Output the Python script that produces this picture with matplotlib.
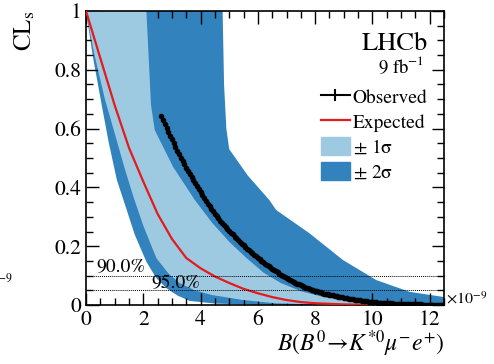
import numpy as np
import matplotlib
matplotlib.use("Agg")
import matplotlib.pyplot as plt
from matplotlib.ticker import MultipleLocator
from matplotlib.patches import Patch
from matplotlib.lines import Line2D

plt.rcParams['font.family'] = ['STIXGeneral', 'DejaVu Sans']
plt.rcParams['mathtext.fontset'] = 'stix'

# expected CLs (median)
exp_x = [0, 0.5, 1.0, 1.5, 2.0, 2.5, 3.0, 3.5, 4.0, 4.5, 5.0, 5.5, 6.0, 6.5, 7.0, 7.5, 8.0, 9.0, 10.0, 12.5]
exp_y = [1.0, 0.84, 0.68, 0.535, 0.42, 0.31, 0.225, 0.16, 0.125, 0.097, 0.075, 0.055, 0.04, 0.027, 0.017, 0.01, 0.006, 0.002, 0.0005, 0.0]

# -1 sigma / +1 sigma band edges
m1_x = [0, 0.3, 0.66, 1.0, 1.35, 1.65, 2.0, 2.46, 2.9, 3.28, 3.8, 4.4, 5.48, 6.6, 8.0, 10.0, 12.5]
m1_y = [1.0, 0.85, 0.70, 0.585, 0.465, 0.37, 0.27, 0.159, 0.105, 0.074, 0.05, 0.034, 0.017, 0.006, 0.002, 0.0005, 0.0]
p1_x = [2.11, 2.27, 2.4, 3.04, 3.8, 4.4, 5.0, 5.6, 6.2, 6.8, 7.5, 8.3, 9.2, 10.2, 11.5, 12.5]
p1_y = [1.0, 0.68, 0.595, 0.47, 0.357, 0.28, 0.215, 0.16, 0.11, 0.075, 0.047, 0.027, 0.014, 0.006, 0.002, 0.001]

# -2 sigma / +2 sigma band edges
m2_x = [0, 0.25, 0.55, 0.8, 1.08, 1.3, 1.7, 2.11, 2.45, 2.81, 3.2, 3.62, 4.5, 6.0, 8.0, 12.5]
m2_y = [1.0, 0.84, 0.68, 0.55, 0.425, 0.36, 0.24, 0.147, 0.092, 0.057, 0.032, 0.014, 0.005, 0.001, 0.0, 0.0]
p2_x = [4.77, 4.82, 4.9, 5.0, 5.65, 6.4, 6.64, 7.8, 8.97, 10.13, 11.29, 12.5]
p2_y = [1.0, 0.75, 0.6, 0.53, 0.44, 0.357, 0.323, 0.244, 0.153, 0.085, 0.045, 0.027]

# observed CLs scan, first point at 2.625, step 0.0625
obs_start, obs_step = 2.625, 0.0625
obs_y = [0.643, 0.630, 0.616, 0.602, 0.589, 0.576, 0.563, 0.550, 0.537, 0.525,
         0.513, 0.501, 0.490, 0.478, 0.467, 0.456, 0.445, 0.435, 0.424, 0.414,
         0.404, 0.394, 0.384, 0.374, 0.364, 0.354, 0.345, 0.336, 0.327, 0.319,
         0.311, 0.302, 0.295, 0.287, 0.280, 0.273, 0.266, 0.259, 0.252, 0.246,
         0.240, 0.233, 0.227, 0.221, 0.215, 0.209, 0.204, 0.198, 0.192, 0.187,
         0.181, 0.176, 0.171, 0.166, 0.161, 0.156, 0.151, 0.146, 0.141, 0.137,
         0.132, 0.128, 0.124, 0.119, 0.115, 0.111, 0.107, 0.103, 0.0995, 0.096,
         0.092, 0.088, 0.085, 0.082, 0.079, 0.076, 0.073, 0.070, 0.067, 0.0645,
         0.062, 0.0595, 0.057, 0.0545, 0.0522, 0.0504, 0.0485, 0.0466, 0.0448, 0.0429,
         0.041, 0.0391, 0.0375, 0.0363, 0.035, 0.0338, 0.0325, 0.0313, 0.030, 0.0288,
         0.0275, 0.0263, 0.025, 0.0238, 0.0225, 0.0213, 0.020, 0.0194, 0.0185, 0.0173,
         0.0165, 0.0159, 0.0153, 0.0146, 0.014, 0.0128, 0.0118, 0.0111, 0.0105, 0.0099,
         0.0093, 0.0086, 0.0080, 0.0077, 0.0073, 0.0069, 0.0065, 0.0060, 0.0056, 0.0053,
         0.0050, 0.0047, 0.0044, 0.0042, 0.0039, 0.0036, 0.0034, 0.0032, 0.0030, 0.0028,
         0.0026, 0.0024, 0.0023, 0.0022, 0.0020, 0.0019, 0.0018, 0.0017, 0.0016, 0.0014,
         0.0014, 0.0013, 0.0012, 0.0012, 0.0011, 0.0010, 0.0010, 0.0009, 0.0008]
obs_x = obs_start + obs_step * np.arange(len(obs_y))

cl_levels = [0.10, 0.05]
cl_labels = ['90.0%', '95.0%']

light = '#9ecae1'
dark = '#3182bd'
red = '#e41a1c'

fig = plt.figure(figsize=(4.94, 3.64), dpi=100)
ax = fig.add_axes([0.174, 0.162, 0.725, 0.808])

# bands as polygons: lower edge forward, upper edge back
ax.fill(np.concatenate([m2_x, p2_x[::-1]]), np.concatenate([m2_y, p2_y[::-1]]),
        color=dark, lw=0, zorder=1)
ax.fill(np.concatenate([m1_x, p1_x[::-1]]), np.concatenate([m1_y, p1_y[::-1]]),
        color=light, lw=0, zorder=2)
ax.plot(exp_x, exp_y, color=red, lw=1.6, zorder=3)

for lev in cl_levels:
    ax.axhline(lev, color='k', ls=(0, (1, 1)), lw=0.7, zorder=4)
ax.text(0.35, 0.101, cl_labels[0], fontsize=14, va='bottom', ha='left', zorder=5)
ax.text(2.3, 0.044, cl_labels[1], fontsize=14, va='bottom', ha='left', zorder=5)

ax.errorbar(obs_x, obs_y, yerr=0.003, xerr=obs_step / 2, fmt='o', ms=3.0, color='k',
            lw=0.8, zorder=6)

ax.set_xlim(0, 12.5)
ax.set_ylim(0, 1)
ax.xaxis.set_major_locator(MultipleLocator(2))
ax.xaxis.set_minor_locator(MultipleLocator(0.5))
ax.yaxis.set_major_locator(MultipleLocator(0.2))
ax.yaxis.set_minor_locator(MultipleLocator(0.05))
ax.set_yticks([0, 0.2, 0.4, 0.6, 0.8, 1.0])
ax.set_yticklabels(['0', '0.2', '0.4', '0.6', '0.8', '1'])
ax.tick_params(which='both', direction='in', top=True, right=True, labelsize=15.5,
               width=1.0)
ax.tick_params(which='major', length=9)
ax.tick_params(which='minor', length=5)
for s in ax.spines.values():
    s.set_linewidth(1.2)

ax.text(1.0, -0.132, r'$B(B^0\!\rightarrow\! K^{*0}\mu^{-}e^{+})$', transform=ax.transAxes,
        fontsize=17, ha='right', va='center')
ax.set_ylabel(r'CL$_{\rm s}$', fontsize=18, loc='top', labelpad=12)
ax.text(1.005, -0.005, r'$\times10^{-9}$', transform=ax.transAxes, fontsize=11.5,
        ha='left', va='bottom')
fig.text(-0.006, 1 - 292 / 364, r'$^{-9}$', fontsize=12, ha='left', va='bottom')

ax.text(0.955, 0.93, 'LHCb', transform=ax.transAxes, fontsize=19, ha='right', va='top')
ax.text(0.945, 0.85, r'9 fb$^{-1}$', transform=ax.transAxes, fontsize=13.5,
        ha='right', va='top')

handles = [
    Line2D([], [], color='k', marker='|', ms=9, mew=1.5, lw=1.5),
    Line2D([], [], color=red, lw=1.6),
    Patch(color=light),
    Patch(color=dark),
]
labels = ['Observed', 'Expected', r'$\pm$ 1σ', r'$\pm$ 2σ']
ax.legend(handles, labels, loc='upper right', bbox_to_anchor=(0.975, 0.765),
          frameon=False, fontsize=14, handlelength=1.5, handleheight=1.0,
          handletextpad=0.15, labelspacing=0.28, borderaxespad=0)

fig.savefig('out.png', dpi=100)
